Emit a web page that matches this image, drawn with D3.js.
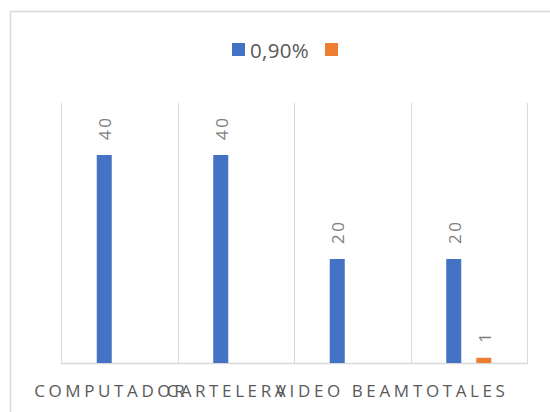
<!DOCTYPE html>
<html>
<head>
<meta charset="utf-8">
<script src="https://cdn.jsdelivr.net/npm/d3@7"></script>
<style>
  body { margin: 0; background: #fff; }
  text { font-family: "Open Sans", "Liberation Sans", Arial, sans-serif; }
</style>
</head>
<body>
<svg id="chart"></svg>
<script>
var width = 550, height = 412;

// data
var categories = ["COMPUTADOR", "CARTELERA", "VIDEO BEAM", "TOTALES"];
var seriesNames = ["0,90%", ""];
var blueValues = [40, 40, 20, 20];
var orangeValues = [null, null, null, 1];
var colors = ["#4472c4", "#ed7d31"];

var margin = {top: 103, right: 23, bottom: 49, left: 61};

var svg = d3.select("#chart").attr("width", width).attr("height", height);

// outer chart border (runs off the right/bottom edge)
svg.append("rect")
    .attr("x", 10.5).attr("y", 11.5)
    .attr("width", 600).attr("height", 500)
    .style("fill", "#fff").style("stroke", "#d9d9d9").style("stroke-width", 1.5);

var x = d3.scaleBand()
    .domain(categories)
    .range([margin.left, width - margin.right]);

var y = d3.scaleLinear()
    .domain([0, 50])
    .range([height - margin.bottom, margin.top]);

// vertical gridlines at category edges
var edges = categories.map(function(c) { return x(c); });
edges.push(x.range()[1]);
svg.append("g").selectAll("line")
    .data(edges)
    .enter().append("line")
    .attr("x1", function(d) { return Math.round(d) + 0.5; })
    .attr("x2", function(d) { return Math.round(d) + 0.5; })
    .attr("y1", y(50))
    .attr("y2", y(0))
    .style("stroke", "#d9d9d9").style("stroke-width", 1);

// baseline
svg.append("line")
    .attr("x1", x.range()[0]).attr("x2", x.range()[1] + 1)
    .attr("y1", y(0) + 0.5).attr("y2", y(0) + 0.5)
    .style("stroke", "#d9d9d9").style("stroke-width", 1.5);

var barW = 15, offset = 15;

function drawSeries(values, color, dx) {
    var pts = categories.map(function(c, i) { return {c: c, v: values[i]}; })
        .filter(function(d) { return d.v != null; });
    var g = svg.append("g");
    g.selectAll("rect")
        .data(pts)
        .enter().append("rect")
        .attr("x", function(d) { return x(d.c) + x.bandwidth() / 2 + dx - barW / 2; })
        .attr("y", function(d) { return y(d.v); })
        .attr("width", barW)
        .attr("height", function(d) { return y(0) - y(d.v); })
        .style("fill", color);
    g.selectAll("text")
        .data(pts)
        .enter().append("text")
        .attr("transform", function(d) {
            return "translate(" + (x(d.c) + x.bandwidth() / 2 + dx + 7) + "," + (y(d.v) - 15) + ") rotate(-90)";
        })
        .attr("text-anchor", "start")
        .style("font-size", "17px")
        .style("letter-spacing", "2.5px")
        .style("fill", "#7f7f7f")
        .text(function(d) { return d.v; });
}

drawSeries(blueValues, colors[0], -offset);
drawSeries(orangeValues, colors[1], offset);

// category labels
svg.append("g").selectAll("text")
    .data(categories)
    .enter().append("text")
    .attr("x", function(d) { return x(d) + x.bandwidth() / 2 - 8; })
    .attr("y", 397)
    .attr("text-anchor", "middle")
    .style("font-size", "17px")
    .style("letter-spacing", "3.6px")
    .style("fill", "#595959")
    .text(function(d) { return d; });

// legend
var legend = svg.append("g");
legend.append("rect").attr("x", 232).attr("y", 43).attr("width", 13).attr("height", 13).style("fill", colors[0]);
legend.append("text").attr("x", 250).attr("y", 57.5)
    .style("font-size", "20.5px").style("letter-spacing", "0.3px")
    .style("fill", "#595959").text(seriesNames[0]);
legend.append("rect").attr("x", 325).attr("y", 43).attr("width", 13).attr("height", 13).style("fill", colors[1]);
</script>
</body>
</html>
